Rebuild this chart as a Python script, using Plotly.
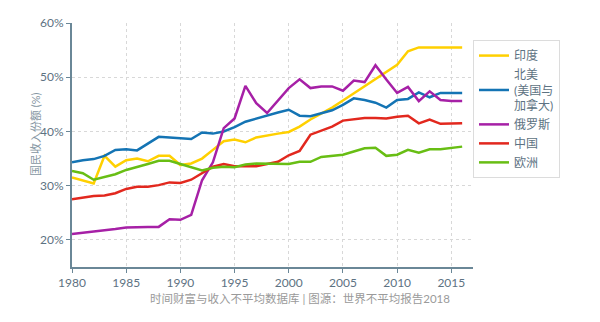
import plotly.graph_objects as go

# Top 10% share of national income, 1980-2016
years = list(range(1980, 2017))

india = [31.5, 30.9, 30.4, 35.5, 33.5, 34.7, 35.0, 34.5, 35.5, 35.5,
         33.8, 34.1, 35.0, 36.6, 38.2, 38.5, 38.0, 38.9, 39.3, 39.6,
         39.9, 40.9, 42.2, 43.3, 44.4, 45.7, 47.0, 48.3, 49.6, 51.0,
         52.3, 54.8, 55.5, 55.5, 55.5, 55.5, 55.5]

north_america = [34.3, 34.7, 34.9, 35.5, 36.6, 36.7, 36.5, 37.8, 39.0, 38.9,
                 38.8, 38.6, 39.8, 39.6, 40.0, 40.8, 41.8, 42.4, 42.9, 43.5,
                 44.0, 42.9, 42.8, 43.4, 43.9, 44.9, 46.1, 45.8, 45.3, 44.4,
                 45.8, 46.0, 47.2, 46.3, 47.1, 47.1, 47.1]

russia = [21.1, 21.3, 21.6, 21.8, 22.0, 22.3, 22.4, 22.4, 22.4, 23.8,
          23.7, 24.6, 31.0, 34.3, 40.6, 42.4, 48.4, 45.2, 43.4, 45.8,
          48.0, 49.6, 48.0, 48.3, 48.3, 47.5, 49.4, 49.1, 52.2, 49.6,
          47.1, 48.2, 45.6, 47.4, 45.8, 45.6, 45.6]

china = [27.5, 27.8, 28.1, 28.2, 28.6, 29.4, 29.8, 29.8, 30.1, 30.6,
         30.5, 31.1, 32.3, 33.5, 34.0, 33.6, 33.6, 33.6, 34.0, 34.4,
         35.6, 36.4, 39.4, 40.2, 40.9, 42.0, 42.3, 42.5, 42.5, 42.4,
         42.7, 42.9, 41.5, 42.2, 41.4, 41.5, 41.5]

europe = [32.7, 32.3, 31.1, 31.6, 32.1, 32.9, 33.4, 34.0, 34.6, 34.6,
          34.0, 33.4, 32.8, 33.3, 33.5, 33.4, 33.9, 34.1, 34.1, 34.0,
          34.0, 34.4, 34.4, 35.3, 35.5, 35.7, 36.3, 36.9, 37.0, 35.5,
          35.7, 36.6, 36.1, 36.7, 36.7, 36.9, 37.2]

series_names = ["印度", "北美<br>(美国与<br>加拿大)", "俄罗斯", "中国", "欧洲"]
series_values = [india, north_america, russia, china, europe]
series_colors = ["#ffd000", "#1474b4", "#a620a6", "#e2281e", "#68be14"]

x_ticks = [1980, 1985, 1990, 1995, 2000, 2005, 2010, 2015]
y_ticks = [20, 30, 40, 50, 60]
y_tick_labels = ["20%", "30%", "40%", "50%", "60%"]

axis_color = "#6a8797"
label_color = "#5d7282"
font_family = "Lato, 'Noto Sans CJK SC', sans-serif"

fig = go.Figure()
for name, vals, color in zip(series_names, series_values, series_colors):
    fig.add_trace(go.Scatter(
        x=years, y=vals, name=name, mode="lines",
        line=dict(color=color, width=2.5),
    ))

fig.update_layout(
    width=600, height=322,
    margin=dict(l=72, r=127, t=23, b=55),
    paper_bgcolor="white", plot_bgcolor="white",
    font=dict(family=font_family, size=12, color=label_color),
    showlegend=True,
    legend=dict(
        x=1.0, xanchor="left", y=0.93, yanchor="top",
        bgcolor="white", bordercolor="#dcdcdc", borderwidth=1,
        font=dict(size=12, color=label_color),
        tracegroupgap=0, itemwidth=30,
    ),
    xaxis=dict(
        range=[1980, 2017], tickvals=x_ticks,
        showline=True, linecolor=axis_color, linewidth=2,
        ticks="outside", ticklen=4, tickcolor=axis_color, tickwidth=1,
        showgrid=True, gridcolor="#d8d8d8", griddash="dot", gridwidth=1,
        zeroline=False, tickfont=dict(size=12, color=label_color),
    ),
    yaxis=dict(
        range=[15, 60], tickvals=y_ticks, ticktext=y_tick_labels,
        showline=True, linecolor=axis_color, linewidth=2,
        ticks="outside", ticklen=4, tickcolor=axis_color, tickwidth=1,
        showgrid=True, gridcolor="#d8d8d8", griddash="dot", gridwidth=1,
        zeroline=False, tickfont=dict(size=12, color=label_color),
    ),
    annotations=[
        dict(text="国民收入份额 (%)", xref="paper", yref="paper",
             x=0, y=0.545, xshift=-37, xanchor="center", yanchor="middle",
             textangle=-90, showarrow=False,
             font=dict(size=11, color="#8596a2")),
        dict(text="时间财富与收入不平均数据库 | 图源：世界不平均报告2018",
             xref="paper", yref="paper", x=0.5675, y=0, yshift=-31,
             xanchor="center", yanchor="middle", showarrow=False,
             font=dict(size=11.5, color="#9a9a9a")),
    ],
)

fig.write_html("out.html")
